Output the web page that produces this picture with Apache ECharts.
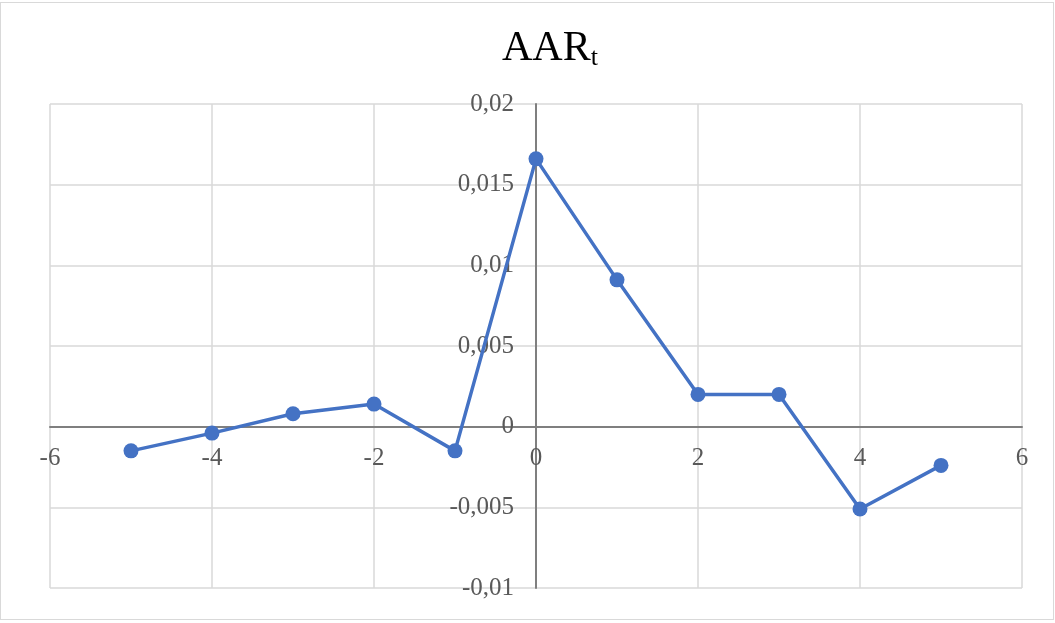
<!DOCTYPE html>
<html>
<head>
<meta charset="utf-8">
<script src="https://cdn.jsdelivr.net/npm/echarts@6/dist/echarts.min.js"></script>
<style>
    html, body { margin: 0; padding: 0; background: #fff; }
    #frame { position: absolute; left: 0; top: 2px; width: 1052px; height: 616px; border: 1px solid #d9d9d9; }
    #main { position: absolute; left: 0; top: 0; width: 1055px; height: 623px; }
</style>
</head>
<body>
<div id="frame"></div>
<div id="main"></div>
<script>
// 数据
var days = [-5, -4, -3, -2, -1, 0, 1, 2, 3, 4, 5];
var aar = [-0.0015, -0.0004, 0.0008, 0.0014, -0.0015, 0.0166, 0.0091, 0.0020, 0.0020, -0.0051, -0.0024];

var xMin = -6, xMax = 6;
var yMin = -0.01, yMax = 0.02;

var points = [];
for (var i = 0; i < days.length; i++) {
    points.push([days[i], aar[i]]);
}

// 小数点用逗号
function commaNum(v) {
    return String(v).replace('.', ',');
}

var labelColor = '#595959';
var fontNm = '"Liberation Serif", "Times New Roman", serif';

// 绘图区
var gridL = 50, gridR = 33, gridT = 104, gridB = 35;
var plotW = 1055 - gridL - gridR;
var plotH = 623 - gridT - gridB;
// 坐标轴移到0的位置 (标签一起移动)
var yAxisOffset = -plotW * (0 - xMin) / (xMax - xMin);
var xAxisOffset = -plotH * (0 - yMin) / (yMax - yMin);

var option = {
    animation: false,
    title: {
        text: '{a|AAR}{b|t}',
        left: 497,
        top: 22,
        textStyle: {
            fontWeight: 'normal',
            rich: {
                a: { fontFamily: fontNm, fontSize: 42, fontWeight: 'normal', color: '#000' },
                b: { fontFamily: fontNm, fontSize: 26, fontWeight: 'normal', color: '#000', padding: [18, 0, 0, 0] }
            }
        }
    },
    grid: { left: gridL, right: gridR, top: gridT, bottom: gridB, containLabel: false, outerBoundsMode: 'none' },
    xAxis: {
        type: 'value',
        min: xMin,
        max: xMax,
        interval: 2,
        offset: xAxisOffset,
        axisLine: { onZero: false, lineStyle: { color: '#7f7f7f', width: 2 } },
        axisTick: { show: false },
        axisLabel: {
            color: labelColor, fontFamily: fontNm, fontSize: 25, margin: 19,
            showMinLabel: true, showMaxLabel: true
        },
        splitLine: { show: true, lineStyle: { color: '#d9d9d9', width: 1.5 } }
    },
    yAxis: {
        type: 'value',
        min: yMin,
        max: yMax,
        interval: 0.005,
        offset: yAxisOffset,
        axisLine: { onZero: false, lineStyle: { color: '#7f7f7f', width: 2 } },
        axisTick: { show: false },
        axisLabel: {
            color: labelColor, fontFamily: fontNm, fontSize: 25, margin: 22,
            formatter: function (v) { return commaNum(v); }
        },
        splitLine: { show: true, lineStyle: { color: '#d9d9d9', width: 1.5 } }
    },
    series: [{
        type: 'line',
        data: points,
        symbol: 'circle',
        symbolSize: 15,
        lineStyle: { color: '#4472c4', width: 3.5 },
        itemStyle: { color: '#4472c4' }
    }]
};

var chart = echarts.init(document.getElementById('main'));
chart.setOption(option);
</script>
</body>
</html>
